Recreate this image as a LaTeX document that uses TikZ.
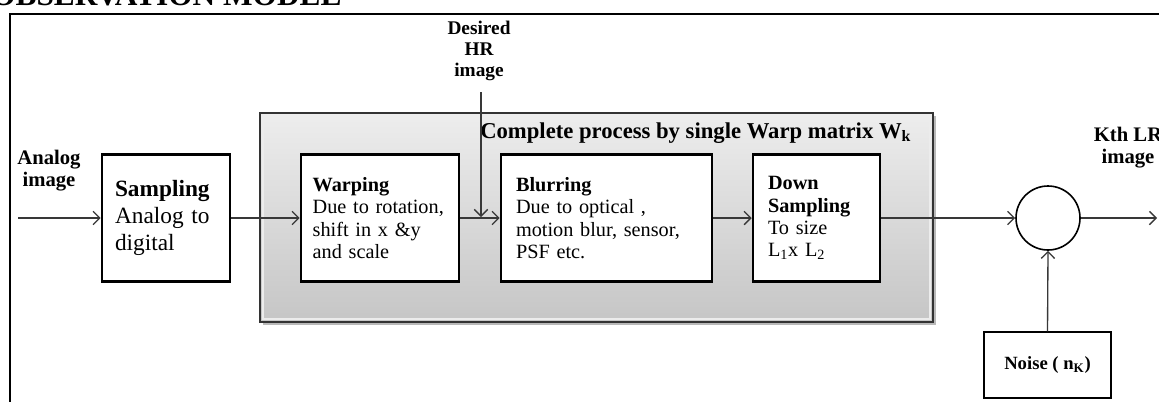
\documentclass[tikz,border=0pt]{standalone}
\usepackage{fontspec}
\setmainfont{Liberation Serif}
\usetikzlibrary{arrows.meta}

\definecolor{lineg}{rgb}{0.22,0.22,0.22}

\begin{document}
\begin{tikzpicture}[x=0.75pt, y=-0.75pt,
    stage/.style={draw=black, line width=1.9pt, fill=white, align=left,
        minimum height=95.25pt, inner xsep=11.25pt,
        font=\fontsize{15.2}{16.8}\selectfont},
    lbl/.style={align=center, font=\bfseries\fontsize{15.5}{16.5}\selectfont},
    flow/.style={draw=lineg, line width=1pt, -{Straight Barb[length=5pt,width=10pt]}}]
    \useasboundingbox (0,0) rectangle (1159,401);

    % title and frame
    \node[anchor=base west, inner sep=0pt, font=\bfseries\fontsize{23.5}{26}\selectfont] (title) at (-9,5) {OBSERVATION MODEL};
    \draw[black, line width=0.8pt] (1170,14) -- (10,14) -- (10,410);

    % warp matrix block
    \fill[gray!55] (263,116) rectangle (936,325);
    \node[draw=black!80, line width=1.6pt, top color=gray!14, bottom color=gray!45,
        minimum width=504.75pt, minimum height=156.75pt, inner sep=0pt] (wbox) at (596.5,217.5) {};
    \draw[white!85!gray, line width=0.8pt] (263,116) rectangle (930,319);
    \node[anchor=west, inner sep=0pt, font=\bfseries\fontsize{17}{19}\selectfont] (wlbl) at (480,133)
        {Complete process by single Warp matrix W\textsubscript{k}};

    % stages
    \node[stage, text width=76.5pt, inner xsep=9.75pt, font=\fontsize{17.5}{20}\selectfont] (samp) at (166,218)
        {\textbf{Sampling}\\Analog to\\digital};
    \node[stage, text width=101pt, inner xsep=8.75pt] (warp) at (380,218)
        {\textbf{Warping}\\Due to rotation,\\shift in x \&y\\and scale};
    \node[stage, text width=135.75pt] (blur) at (606.5,218)
        {\textbf{Blurring}\\Due to optical ,\\motion blur, sensor,\\PSF etc.};
    \node[stage, text width=72.75pt] (down) at (816.5,218)
        {\textbf{Down}\\\textbf{Sampling}\\To size\\L\textsubscript{1}x L\textsubscript{2}};
    \node[circle, draw=black, line width=1.2pt, minimum size=48pt, inner sep=0pt] (sum) at (1048,218) {};
    \node[draw=black, line width=1.1pt, minimum width=95.25pt, minimum height=49.5pt,
        font=\bfseries\fontsize{14}{16}\selectfont] (noise) at (1047.5,365) {Noise ( n\textsubscript{K})};

    % labels
    \node[lbl] (ain) at (49,171) {Analog\\image};
    \node[lbl, font=\bfseries\fontsize{14.5}{15.8}\selectfont] (hr) at (479,51) {Desired\\HR\\image};
    \node[lbl] (kout) at (1128,148) {Kth LR\\image};

    \coordinate (inp) at (18,218);
    \coordinate (hrtop) at (481,92);
    \coordinate (hrin) at (481,217);
    \coordinate (outp) at (1157,218);

    % connectors
    \draw[flow] (inp) -- (samp.west);
    \draw[flow] (samp.east) -- (warp.west);
    \draw[flow] (warp.east) -- (blur.west);
    \draw[flow] (hrtop) -- (hrin);
    \draw[flow] (blur.east) -- (down.west);
    \draw[flow] (down.east) -- (sum.west);
    \draw[flow] (sum.east) -- (outp);
    \draw[flow] (noise.north) -- (sum.south);
\end{tikzpicture}
\end{document}
